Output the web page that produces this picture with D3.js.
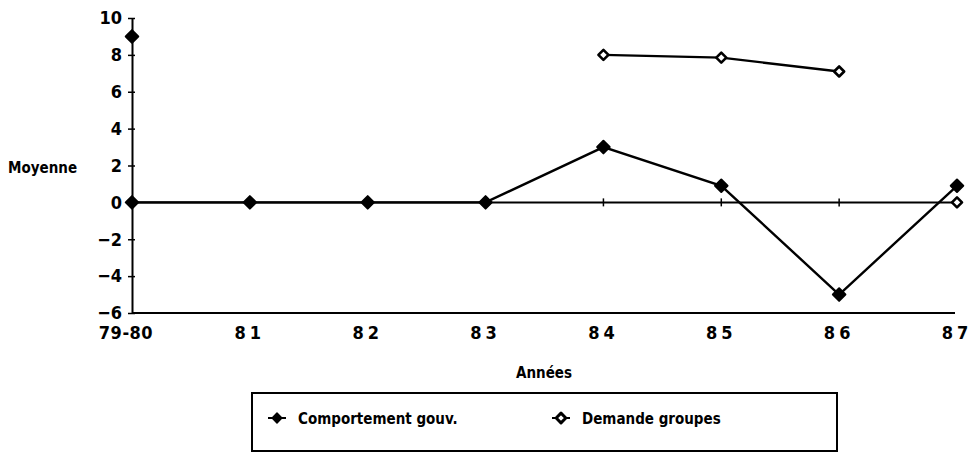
<!DOCTYPE html>
<html>
<head>
<meta charset="utf-8">
<script src="https://d3js.org/d3.v7.min.js"></script>
<style>
  body { margin: 0; background: #fff; }
  text { font-family: "DejaVu Sans Condensed", "Liberation Sans Narrow", sans-serif; font-weight: bold; fill: #000; }
</style>
</head>
<body>
<div id="chart"></div>
<script>
var categories = ["79-80", "81", "82", "83", "84", "85", "86", "87"];
var yTicks = [-6, -4, -2, 0, 2, 4, 6, 8, 10];
var comportement = [0, 0, 0, 0, 3, 0.9, -5, 0.9];
var demande = [null, null, null, null, 8, 7.85, 7.1, null];
// points drawn without a connecting line in the original
var strayFilled = [{ cat: "79-80", v: 9 }];
var strayOpen = [{ cat: "87", v: 0 }];
var legendNames = ["Comportement gouv.", "Demande groupes"];

var W = 977, H = 454;
var svg = d3.select("#chart").append("svg")
    .attr("width", W).attr("height", H);

var x = d3.scalePoint().domain(categories).range([132, 957]).padding(0);
var y = d3.scaleLinear().domain([-6, 10]).range([313, 18]);

// y axis
var yAxis = svg.append("g")
    .attr("transform", "translate(" + x(categories[0]) + ",0)")
    .call(d3.axisLeft(y).tickValues(yTicks).tickSize(5).tickSizeOuter(0).tickFormat(d3.format("d")));
yAxis.select(".domain").attr("stroke", "#000").attr("stroke-width", 2);
yAxis.selectAll(".tick line").attr("stroke-width", 1.5).attr("x2", 3).attr("x1", -4);
yAxis.selectAll(".tick text").attr("x", -10).attr("dy", "0.32em").attr("font-size", 18)
    .style("font-family", "DejaVu Sans Condensed").style("font-weight", "bold");

// bottom line and labels
svg.append("line")
    .attr("x1", x(categories[0])).attr("x2", 955)
    .attr("y1", y(-6)).attr("y2", y(-6))
    .attr("stroke", "#000").attr("stroke-width", 2);

svg.selectAll(".xlab")
    .data(categories)
    .enter().append("text")
    .attr("class", "xlab")
    .attr("x", function (d, i) { return x(d) - (i == 0 ? 6 : 0); })
    .attr("y", 339)
    .attr("text-anchor", "middle")
    .attr("font-size", 18)
    .attr("letter-spacing", function (d, i) { return i == 0 ? 0.5 : 4; })
    .text(function (d) { return d; });

// zero axis with ticks
svg.append("line")
    .attr("x1", x(categories[0])).attr("x2", x(categories[categories.length - 1]))
    .attr("y1", y(0)).attr("y2", y(0))
    .attr("stroke", "#000").attr("stroke-width", 2);
svg.selectAll(".xtick")
    .data(categories.slice(1))
    .enter().append("line")
    .attr("x1", function (d) { return x(d); }).attr("x2", function (d) { return x(d); })
    .attr("y1", y(0) - 4).attr("y2", y(0) + 4)
    .attr("stroke", "#000").attr("stroke-width", 1.5);

var line = d3.line()
    .defined(function (d) { return d.v !== null; })
    .x(function (d) { return x(d.cat); })
    .y(function (d) { return y(d.v); });

function toPts(arr) {
    return arr.map(function (v, i) { return { cat: categories[i], v: v }; });
}

var diamond = d3.symbol().type(d3.symbolDiamond2).size(100);

function drawSeries(pts, filled) {
    svg.append("path")
        .datum(pts)
        .attr("d", line)
        .attr("fill", "none")
        .attr("stroke", "#000")
        .attr("stroke-width", 2.4);
    svg.selectAll(null)
        .data(pts.filter(function (d) { return d.v !== null; }))
        .enter().append("path")
        .attr("d", filled ? diamond : d3.symbol().type(d3.symbolDiamond2).size(64))
        .attr("transform", function (d) { return "translate(" + x(d.cat) + "," + y(d.v) + ")"; })
        .attr("fill", filled ? "#000" : "#fff")
        .attr("stroke", "#000")
        .attr("stroke-linejoin", "round")
        .attr("stroke-width", filled ? 2 : 2.6);
}

drawSeries(toPts(comportement), true);
drawSeries(toPts(demande), false);
drawSeries(strayFilled, true);
drawSeries(strayOpen, false);

// axis titles
svg.append("text")
    .attr("x", 8).attr("y", 173)
    .attr("font-size", 15)
    .text("Moyenne");
svg.append("text")
    .attr("x", 544).attr("y", 378)
    .attr("text-anchor", "middle")
    .attr("font-size", 15)
    .text("Années");

// legend
svg.append("rect")
    .attr("x", 252).attr("y", 393)
    .attr("width", 585).attr("height", 58)
    .attr("fill", "none").attr("stroke", "#000").attr("stroke-width", 2);

var legX = [277, 561];
legendNames.forEach(function (name, i) {
    svg.append("line")
        .attr("x1", legX[i] - 9).attr("x2", legX[i] + 9)
        .attr("y1", 418).attr("y2", 418)
        .attr("stroke", "#000").attr("stroke-width", 2);
    svg.append("path")
        .attr("d", d3.symbol().type(d3.symbolDiamond2).size(60))
        .attr("transform", "translate(" + legX[i] + ",418)")
        .attr("fill", i == 0 ? "#000" : "#fff").attr("stroke", "#000")
        .attr("stroke-linejoin", "round").attr("stroke-width", i == 0 ? 1.5 : 3);
    svg.append("text")
        .attr("x", legX[i] + 21).attr("y", 424)
        .attr("font-size", 15)
        .text(name);
});
</script>
</body>
</html>
